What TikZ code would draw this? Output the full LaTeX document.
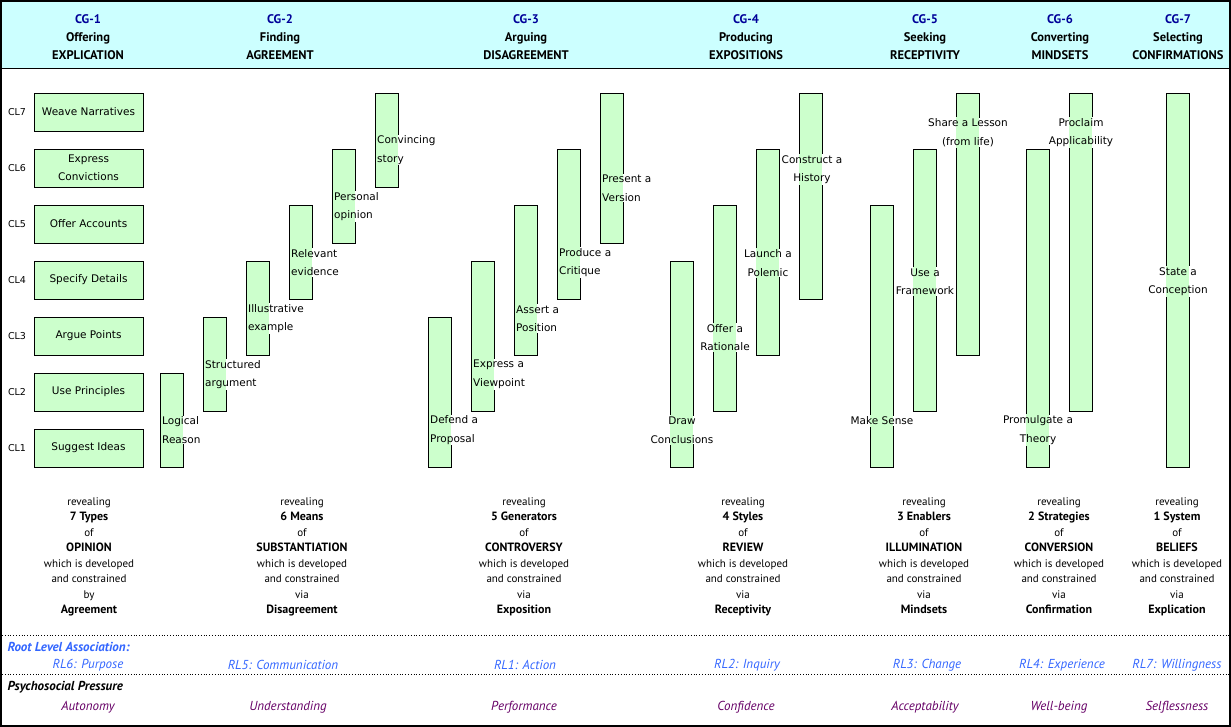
\documentclass[tikz,border=0pt]{standalone}
\usepackage{fontspec}
\setmainfont{PT Sans}
\newfontfamily\lucfont{DejaVu Sans}
\usetikzlibrary{positioning}

\definecolor{barfill}{RGB}{204,255,204}
\definecolor{headfill}{RGB}{204,255,255}
\definecolor{cgblue}{RGB}{0,0,153}
\definecolor{rlblue}{RGB}{51,102,255}
\definecolor{ppurple}{RGB}{102,0,102}

\newcommand{\bigbf}[1]{{\fontsize{12}{15.5}\selectfont\bfseries #1}}

\tikzset{
  clbox/.style={draw, fill=barfill, line width=0.8pt, minimum width=109pt, minimum height=38pt,
    inner sep=0pt, align=center, font=\lucfont\fontsize{10.5}{18}\selectfont},
  cllabel/.style={font=\lucfont\fontsize{9.5}{12}\selectfont},
  barnode/.style={draw, fill=barfill, line width=0.8pt, minimum width=23pt, inner sep=0pt},
  barlabel/.style={fill=white, inner sep=1pt, font=\lucfont\fontsize{10.5}{18.5}\selectfont},
  head/.style={align=center, font=\fontsize{12.5}{18}\selectfont\bfseries},
  reveal/.style={align=center, anchor=north, font=\fontsize{11}{15.5}\selectfont},
  rltext/.style={text=rlblue, font=\fontsize{13}{14}\selectfont\itshape},
  pptext/.style={text=ppurple, font=\fontsize{13}{14}\selectfont\itshape},
}

\begin{document}
\begin{tikzpicture}[x=1pt, y=-1pt]
    \useasboundingbox (0,0) rectangle (1231,727);

    % Header band
    \fill[headfill] (1,1) rectangle (1230,68);
    \draw[line width=0.8pt] (1,68) -- (1230,68);

    % Column headings
    \foreach \x/\verb/\goal [count=\i] in {88/Offering/EXPLICATION, 280/Finding/AGREEMENT,
        526/Arguing/DISAGREEMENT, 746/Producing/EXPOSITIONS, 925/Seeking/RECEPTIVITY,
        1060/Converting/MINDSETS, 1178/Selecting/CONFIRMATIONS} {
        \node[head] (cg\i) at (\x,37.5) {\textcolor{cgblue}{CG-\i}\\\verb\\\goal};
    }

    % Levels and their boxes
    \foreach \k/\tx in {7/Weave Narratives, 6/Express\\Convictions, 5/Offer Accounts,
        4/Specify Details, 3/Argue Points, 2/Use Principles, 1/Suggest Ideas} {
        \pgfmathsetmacro{\cy}{112+(7-\k)*56}
        \node[clbox] (box\k) at (88.5,\cy) {\tx};
        \node[cllabel] (cl\k) at (17,\cy) {CL\k};
    }

    % Bars: name/left/top/bottom
    \foreach \bn/\bx/\bt/\bb in {lr/160/373/467, sa/203/317/411, ie/246/261/355, re/289/205/299,
        po/332/149/243, cs/375/93/187,
        dp/428/317/467, ev/471/261/411, ap/514/205/355, pc/557/149/299, pv/600/93/243,
        dc/670/261/467, or/713/205/411, lp/756/149/355, ch/799/93/299,
        ms/870/205/467, uf/913/149/411, sl/956/93/355,
        pt/1026/149/467, pa/1069/93/411,
        sc/1166/93/467} {
        \node[barnode, minimum height={(\bb-\bt)*1pt}] (\bn) at ({\bx+11.5},{(\bt+\bb)/2}) {};
    }

    % Bar labels
    \foreach \ln/\bn/\an/\lx/\ly/\al/\tx in {
        llr/lr/west/161/430/left/Logical\\Reason, lsa/sa/west/204/374.5/left/Structured\\argument,
        lie/ie/west/247/318.5/left/Illustrative\\example, lre/re/west/290/262.5/left/Relevant\\evidence,
        lpo/po/west/333/206.5/left/Personal\\opinion, lcs/cs/west/376/150/left/Convincing\\story,
        ldp/dp/west/429/430/left/Defend a\\Proposal, lev/ev/west/472/374.5/left/Express a\\Viewpoint,
        lap/ap/west/515/318.5/left/Assert a\\Position, lpc/pc/west/558/262.5/left/Produce a\\Critique,
        lpv/pv/west/601/188/left/Present a\\Version,
        ldc/dc/center/682/430/center/Draw\\Conclusions, lor/or/center/725/337.5/center/Offer a\\Rationale,
        llp/lp/center/768/263/center/Launch a\\Polemic, lch/ch/center/812/169.5/center/Construct a\\History,
        lms/ms/center/882/421/center/Make Sense, luf/uf/center/925/281.5/center/Use a\\Framework,
        lsl/sl/center/968/132.5/center/Share a Lesson\\(from life),
        lpt/pt/center/1038/430/center/Promulgate a\\Theory, lpa/pa/center/1081/132.5/center/Proclaim\\Applicability,
        lsc/sc/center/1178/281.5/center/State a\\Conception} {
        \node[barlabel, anchor=\an, align=\al,
            path picture={\fill[barfill] (\bn.south west) rectangle (\bn.north east);}]
            (\ln) at (\lx,\ly) {\tx};
    }

    % What each column reveals
    \foreach \x/\n/\w/\c/\v [count=\i] in {89/7 Types/OPINION/by/Agreement,
        302/6 Means/SUBSTANTIATION/via/Disagreement, 524/5 Generators/CONTROVERSY/via/Exposition,
        743/4 Styles/REVIEW/via/Receptivity, 924/3 Enablers/ILLUMINATION/via/Mindsets,
        1059/2 Strategies/CONVERSION/via/Confirmation, 1177/1 System/BELIEFS/via/Explication} {
        \node[reveal] (rev\i) at (\x,494)
            {revealing\\\bigbf{\n}\\of\\\bigbf{\w}\\which is developed\\and constrained\\\c\\\bigbf{\v}};
    }

    % Separators
    \draw[dotted, line width=0.8pt] (2,635) -- (1229,635);
    \draw[dotted, line width=0.8pt] (2,674) -- (1229,674);

    % Root level association
    \node[anchor=west, text=rlblue, font=\fontsize{13}{14}\selectfont\bfseries\itshape] (rla) at (4,647) {Root Level Association:};
    \foreach \x/\tx [count=\i] in {88/RL6: Purpose, 283/RL5: Communication, 525/RL1: Action,
        747/RL2: Inquiry, 927/RL3: Change, 1062/RL4: Experience, 1177/RL7: Willingness} {
        \node[rltext] (rl\i) at (\x,665) {\tx};
    }

    % Psychosocial pressure
    \node[anchor=west, font=\fontsize{13}{14}\selectfont\bfseries\itshape] (psp) at (4,687) {Psychosocial Pressure};
    \foreach \x/\tx [count=\i] in {88/Autonomy, 288/Understanding, 524/Performance,
        746/Confidence, 925/Acceptability, 1059/Well-being, 1177/Selflessness} {
        \node[pptext] (pp\i) at (\x,707) {\tx};
    }

    % Outer frame
    \draw[line width=2pt] (1,1) rectangle (1230,726);
\end{tikzpicture}
\end{document}
